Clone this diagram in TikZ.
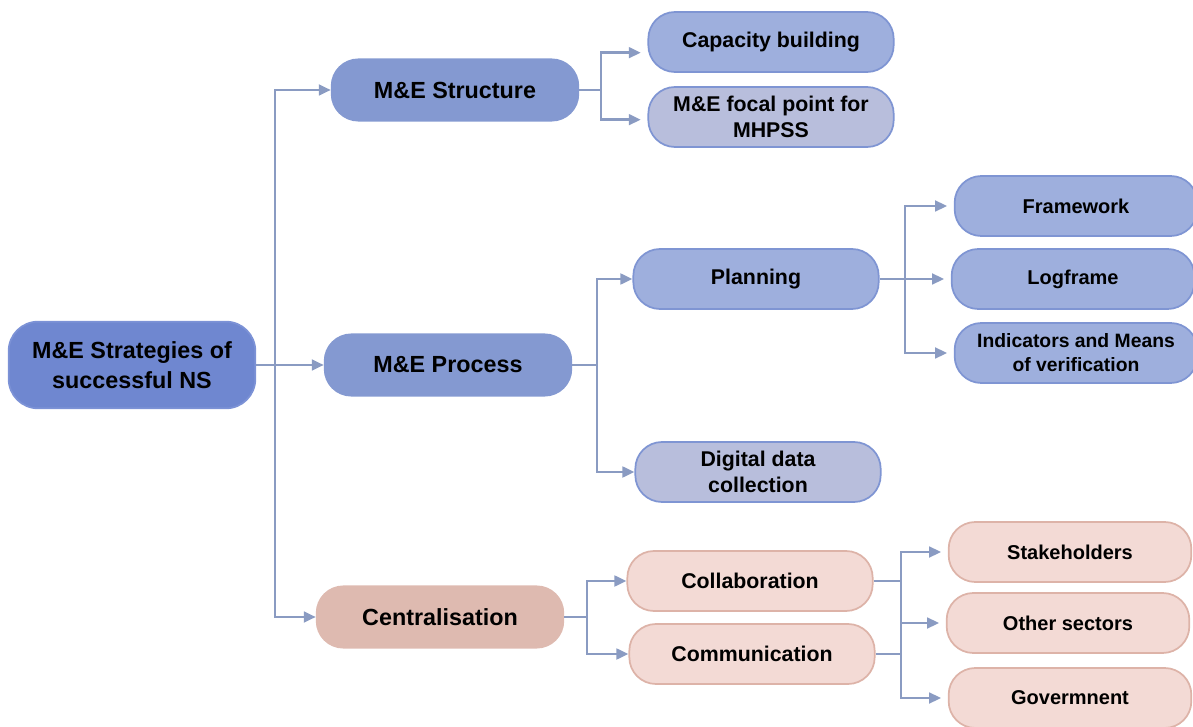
\documentclass[tikz,border=0pt]{standalone}
\usepackage{fontspec}
\setmainfont{Liberation Sans}
\usetikzlibrary{arrows.meta}

\definecolor{rootblue}{HTML}{6F87D0}
\definecolor{rootedge}{HTML}{7C92D6}
\definecolor{midblue}{HTML}{8499D1}
\definecolor{lightblue}{HTML}{9EAFDD}
\definecolor{blueedge}{HTML}{7F95D3}
\definecolor{greyblue}{HTML}{B8BEDC}
\definecolor{darkpink}{HTML}{DEBAB0}
\definecolor{lightpink}{HTML}{F3DAD5}
\definecolor{pinkedge}{HTML}{DDB3A8}
\definecolor{linecol}{HTML}{8A9BC2}

\tikzset{
  box/.style={rounded corners=20pt, line width=1.3pt, align=center, inner sep=2pt,
    minimum width=184pt, minimum height=45pt, font=\bfseries\fontsize{16}{19.5}\selectfont},
  rootbox/.style={box, fill=rootblue, draw=rootedge, rounded corners=22pt,
    minimum width=185pt, minimum height=65pt, font=\bfseries\fontsize{17.5}{22}\selectfont},
  topbox/.style={box, fill=midblue, draw=midblue, minimum width=185pt, minimum height=46pt,
    font=\bfseries\fontsize{17.5}{21}\selectfont},
  subbox/.style={box, fill=lightblue, draw=blueedge},
  greybox/.style={box, fill=greyblue, draw=blueedge},
  leafbox/.style={box, fill=lightblue, draw=blueedge, minimum width=182pt,
    font=\bfseries\fontsize{15}{18}\selectfont},
  centbox/.style={topbox, fill=darkpink, draw=darkpink},
  pinkbox/.style={box, fill=lightpink, draw=pinkedge},
  pinkleaf/.style={pinkbox, minimum width=182pt, font=\bfseries\fontsize{15}{18}\selectfont},
  ln/.style={draw=linecol, line width=2pt},
  arr/.style={ln, -{Triangle[length=9pt,width=8pt]}},
  arrgap/.style={arr, shorten >=5pt},
}

\begin{document}
\begin{tikzpicture}[x=0.75pt, y=-0.75pt]

\useasboundingbox (0,0) rectangle (1193,727);
\clip (0,0) rectangle (1193,727);

\node[rootbox] (root) at (132, 365) {M\&E Strategies of\\successful NS};

\node[topbox] (struct) at (455, 90) {M\&E Structure};
\node[topbox] (proc) at (448, 365) {M\&E Process};
\node[centbox] (central) at (440, 617) {Centralisation};

\node[subbox] (cap) at (771, 42) {Capacity building};
\node[greybox] (focal) at (771, 117) {M\&E focal point for\\MHPSS};
\node[subbox] (plan) at (756, 279) {Planning};
\node[greybox] (digital) at (758, 472) {Digital data\\collection};
\node[pinkbox] (collab) at (750, 581) {Collaboration};
\node[pinkbox] (comm) at (752, 654) {Communication};

\node[leafbox] (frame) at (1076, 206) {Framework};
\node[leafbox] (logf) at (1073, 279) {Logframe};
\node[leafbox, font=\bfseries\fontsize{14.5}{18}\selectfont] (indic) at (1076, 353) {Indicators and Means\\of verification};
\node[pinkleaf] (stake) at (1070, 552) {Stakeholders};
\node[pinkleaf] (other) at (1068, 623) {Other sectors};
\node[pinkleaf] (gov) at (1070, 698) {Govermnent};

% junction columns
\coordinate (j0) at (275, 0);
\coordinate (j1) at (601, 0);
\coordinate (j2) at (597, 0);
\coordinate (j3) at (905, 0);
\coordinate (j4) at (587, 0);
\coordinate (j5) at (901, 0);

\draw[arr] (root.east) -- (proc.west);
\draw[arr] (j0 |- root.east) |- (struct.west);
\draw[arr] (j0 |- root.east) |- (central.west);

\draw[ln] (struct.east) -- (j1 |- struct.east);
\draw[arrgap] (j1 |- struct.east) |- ([yshift=-8pt]cap.west);
\draw[arrgap] (j1 |- struct.east) |- ([yshift=-2pt]focal.west);

\draw[ln] (proc.east) -- (j2 |- proc.east);
\draw[arr] (j2 |- proc.east) |- (plan.west);
\draw[arr] (j2 |- proc.east) |- (digital.west);

\draw[arrgap] (plan.east) -- (logf.west);
\draw[arrgap] (j3 |- plan.east) |- (frame.west);
\draw[arrgap] (j3 |- plan.east) |- (indic.west);

\draw[ln] (central.east) -- (j4 |- central.east);
\draw[arr] (j4 |- central.east) |- (collab.west);
\draw[arr] (j4 |- central.east) |- (comm.west);

\draw[ln] (collab.east) -- (j5 |- collab.east);
\draw[ln] (comm.east) -- (j5 |- comm.east);
\draw[ln] (j5 |- collab.east) -- (j5 |- comm.east);
\draw[arrgap] (j5 |- collab.east) |- (stake.west);
\draw[arrgap] (j5 |- other.west) -- (other.west);
\draw[arrgap] (j5 |- comm.east) |- (gov.west);

\end{tikzpicture}
\end{document}
